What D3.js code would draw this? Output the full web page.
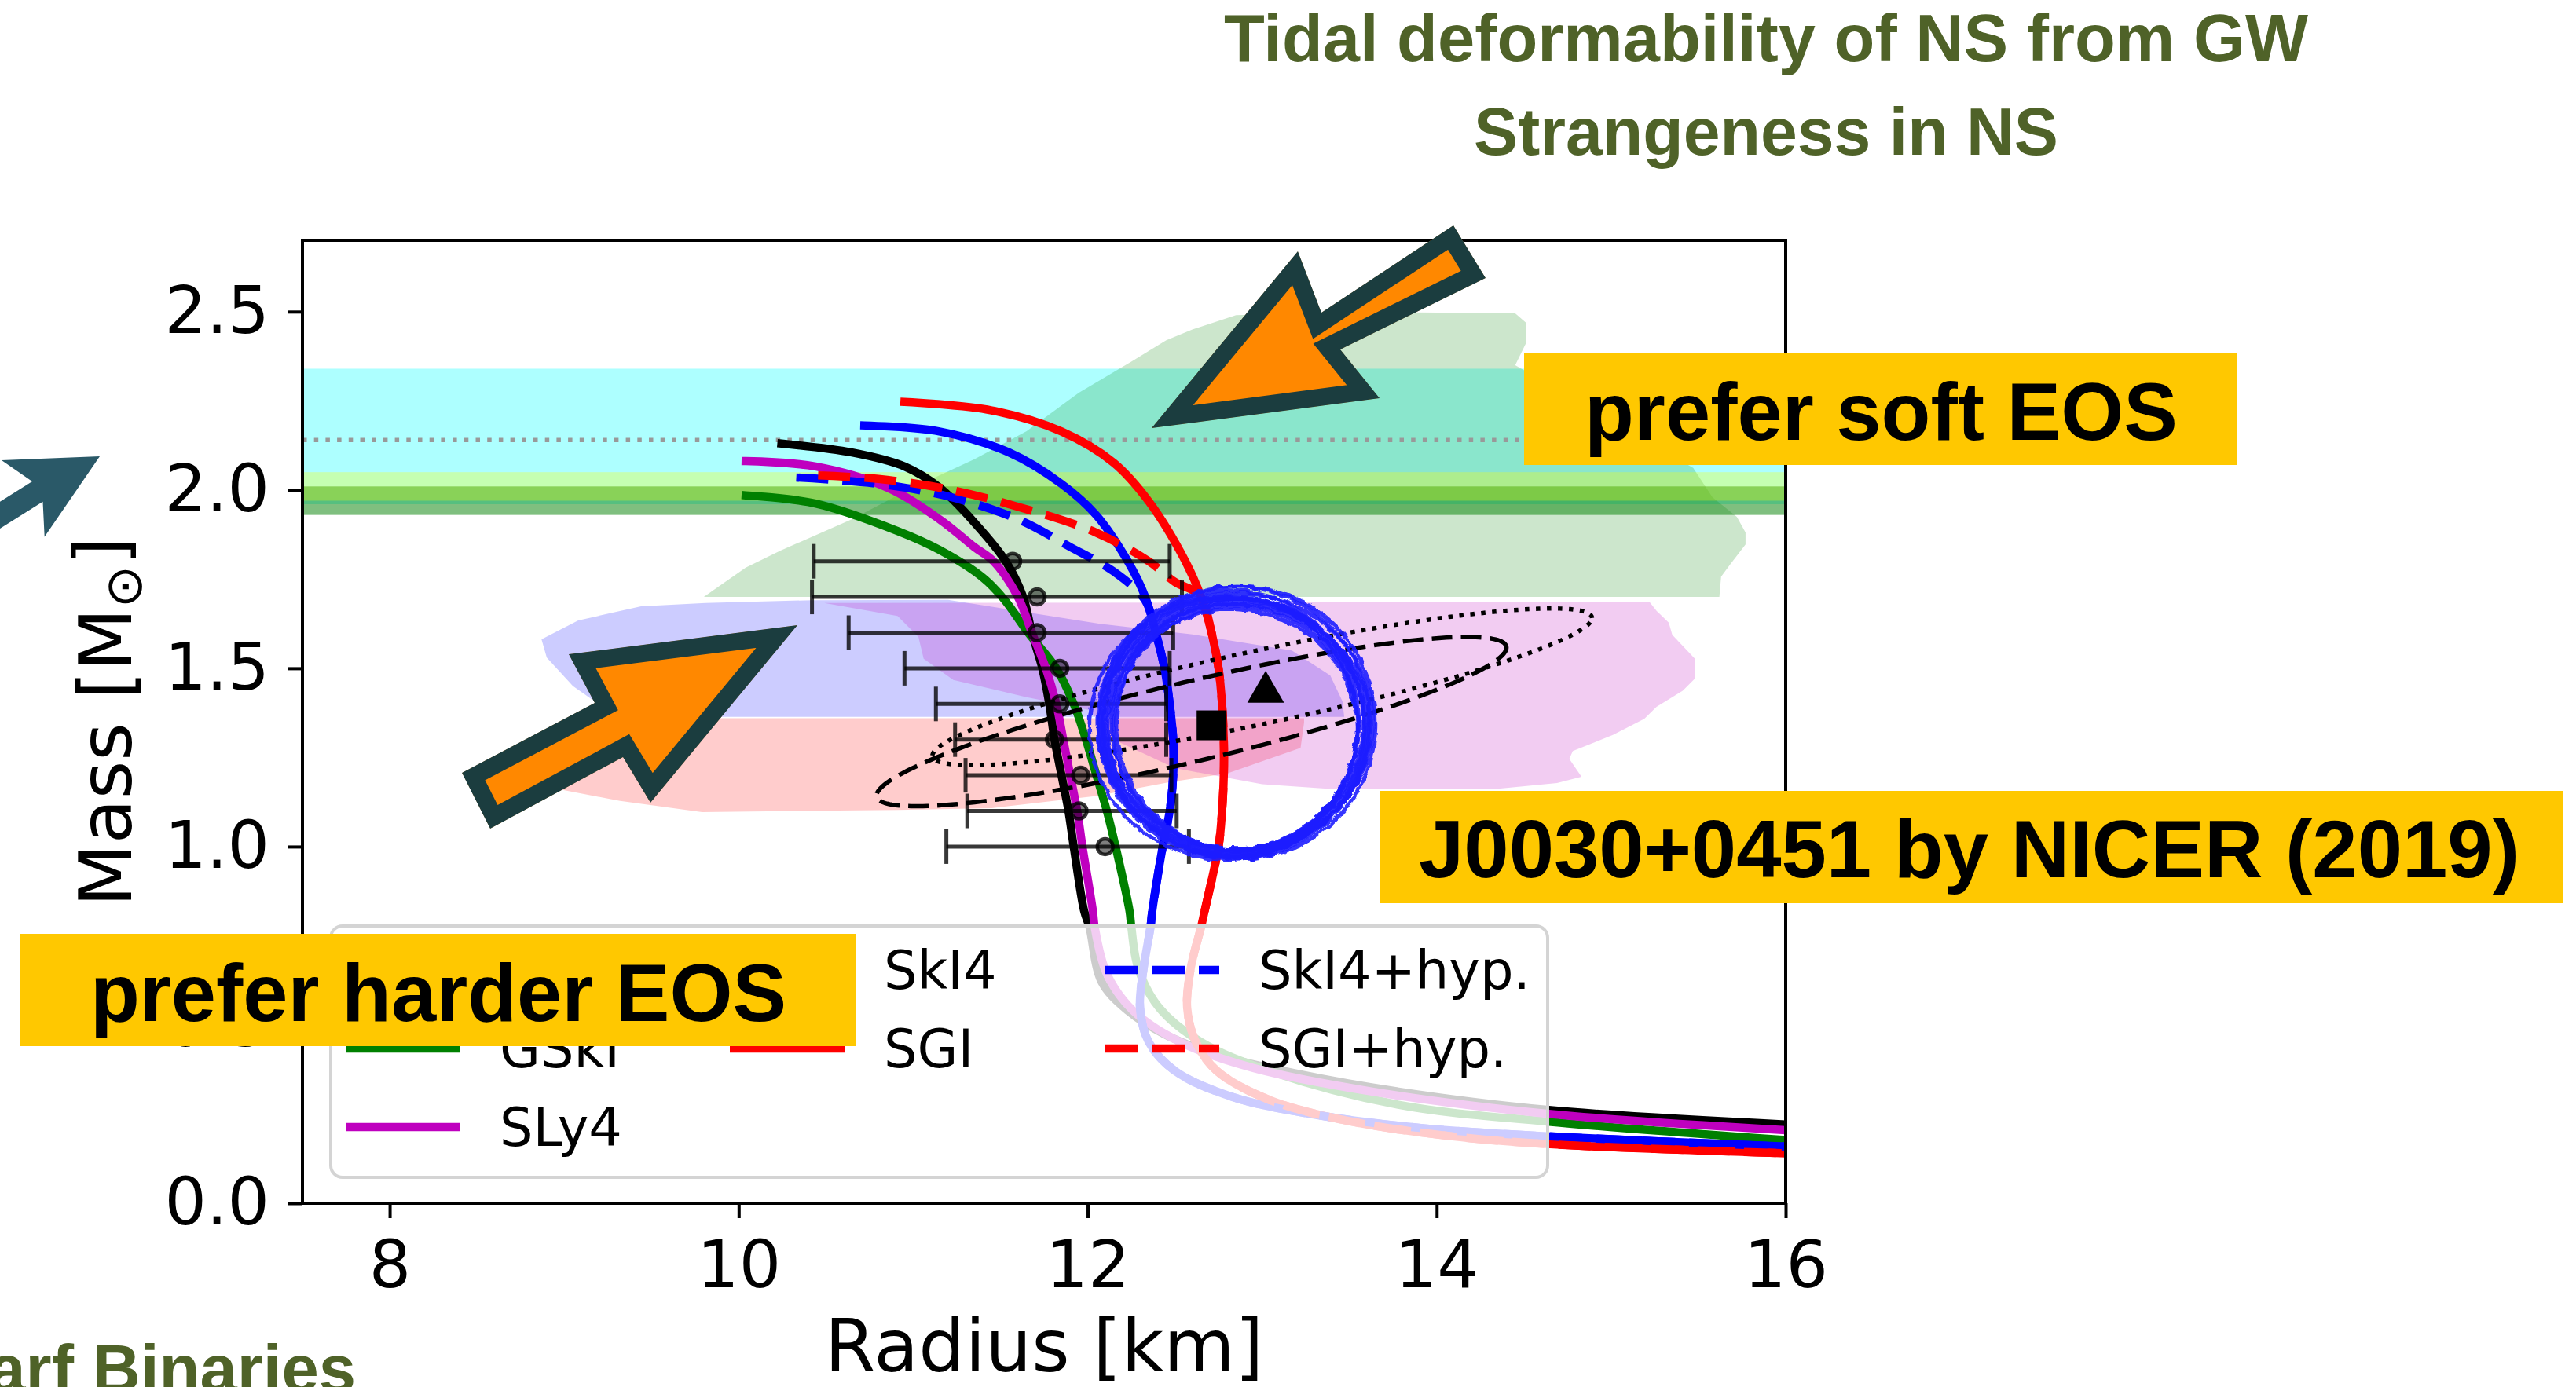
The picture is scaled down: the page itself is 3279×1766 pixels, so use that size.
<!DOCTYPE html>
<html>
<head>
<meta charset="utf-8">
<script src="https://cdn.jsdelivr.net/npm/d3@7"></script>
<style>
  html, body { margin: 0; padding: 0; background: #ffffff; }
  svg { display: block; }
</style>
</head>
<body>
<svg id="chart" width="3279" height="1766"></svg>
<script>
// ---------------- data ----------------
const xTicks = [8, 10, 12, 14, 16];
const yTicks = [0.0, 0.5, 1.0, 1.5, 2.0, 2.5];

// Mass-radius relations [R (km), M (Msun)], from maximum mass down to the crust
const curveSkI3 = [[10.245,2.130],[10.65,2.105],[10.95,2.066],[11.15,2.007],[11.35,1.909],[11.53,1.800],[11.63,1.700],[11.68,1.600],[11.74,1.500],[11.78,1.400],[11.81,1.300],[11.85,1.200],[11.89,1.100],[11.92,1.000],[11.98,0.819],[12.01,0.775],[12.08,0.621],[12.23,0.540],[12.44,0.474],[12.74,0.416],[13.19,0.364],[13.78,0.313],[14.63,0.262],[16.0,0.221]];
const curveGSkI = [[10.04,1.985],[10.44,1.962],[10.91,1.885],[11.15,1.832],[11.40,1.754],[11.52,1.694],[11.66,1.599],[11.82,1.500],[11.92,1.400],[11.99,1.300],[12.05,1.200],[12.11,1.100],[12.16,1.000],[12.24,0.819],[12.25,0.775],[12.29,0.658],[12.41,0.548],[12.65,0.452],[13.04,0.371],[13.78,0.276],[14.63,0.229],[16.0,0.177]];
const curveSLy4 = [[10.04,2.081],[10.44,2.066],[10.85,2.007],[11.15,1.918],[11.35,1.840],[11.46,1.800],[11.60,1.700],[11.68,1.600],[11.76,1.500],[11.82,1.400],[11.86,1.300],[11.90,1.200],[11.94,1.100],[11.97,1.000],[12.03,0.819],[12.04,0.775],[12.11,0.643],[12.26,0.540],[12.53,0.452],[12.95,0.379],[13.63,0.313],[14.63,0.251],[16.0,0.205]];
const curveSkI4 = [[10.72,2.181],[11.15,2.164],[11.55,2.105],[11.85,2.017],[12.05,1.929],[12.23,1.800],[12.33,1.700],[12.39,1.600],[12.44,1.500],[12.47,1.400],[12.49,1.300],[12.49,1.200],[12.47,1.100],[12.43,1.000],[12.37,0.819],[12.36,0.775],[12.32,0.658],[12.30,0.548],[12.35,0.452],[12.50,0.371],[12.83,0.298],[13.33,0.246],[13.93,0.210],[14.63,0.188],[16.0,0.159]];
const curveSGI = [[10.95,2.247],[11.45,2.223],[11.85,2.164],[12.15,2.076],[12.35,1.968],[12.56,1.800],[12.65,1.700],[12.71,1.600],[12.75,1.500],[12.77,1.400],[12.78,1.300],[12.78,1.200],[12.77,1.100],[12.75,1.000],[12.67,0.819],[12.65,0.775],[12.59,0.658],[12.57,0.548],[12.62,0.452],[12.74,0.371],[13.04,0.290],[13.48,0.232],[14.08,0.188],[14.63,0.166],[16.0,0.140]];
const curveSkI4hyp = [[10.33,2.035],[10.80,2.017],[11.20,1.982],[11.60,1.918],[11.90,1.840],[12.15,1.771],[12.33,1.690],[12.39,1.600],[12.44,1.500],[12.47,1.400],[12.49,1.300],[12.49,1.200],[12.47,1.100],[12.43,1.000],[12.37,0.819],[12.36,0.775],[12.32,0.658],[12.30,0.548],[12.35,0.452],[12.50,0.371],[12.83,0.298],[13.33,0.246],[13.93,0.210],[14.63,0.188],[16.0,0.159]];
const curveSGIhyp = [[10.455,2.041],[10.80,2.031],[11.20,2.002],[11.60,1.953],[12.05,1.880],[12.35,1.800],[12.50,1.742],[12.64,1.705],[12.71,1.600],[12.75,1.500],[12.77,1.400],[12.78,1.300],[12.78,1.200],[12.77,1.100],[12.75,1.000],[12.67,0.819],[12.65,0.775],[12.59,0.658],[12.57,0.548],[12.62,0.452],[12.74,0.371],[13.04,0.290],[13.48,0.232],[14.08,0.188],[14.63,0.166],[16.0,0.140]];

const eosLabels = ["SkI3", "GSkI", "SLy4", "SkI4", "SGI", "SkI4+hyp.", "SGI+hyp."];
const eosCurves = [curveSkI3, curveGSkI, curveSLy4, curveSkI4, curveSGI, curveSkI4hyp, curveSGIhyp];
const eosColors = ["#000000", "#008000", "#bf00bf", "#0000ff", "#ff0000", "#0000ff", "#ff0000"];
const eosDashed = [false, false, false, false, false, true, true];

// Horizontal mass bands [Mlow, Mhigh]
const bandJ0740 = [1.96, 2.34];
const bandJ1614 = [1.93, 2.01];
const bandJ0348 = [1.97, 2.05];
const lineJ0740 = 2.14;

// Shaded constraint regions [R, M]
const regionGW = [[12.60,2.450],[12.85,2.490],[13.50,2.500],[14.45,2.495],[14.51,2.470],[14.51,2.410],[14.45,2.350],[15.47,2.062],[15.58,1.980],[15.72,1.925],[15.77,1.881],[15.77,1.847],[15.68,1.790],[15.63,1.757],[15.62,1.700],[9.80,1.700],[10.04,1.782],[10.24,1.830],[10.65,1.918],[10.97,2.000],[11.35,2.086],[11.65,2.165],[11.95,2.273],[12.25,2.360],[12.45,2.420]];
const regionBurstHigh = [[8.87,1.581],[9.08,1.634],[9.44,1.674],[9.81,1.683],[10.42,1.691],[11.20,1.692],[12.07,1.625],[12.60,1.595],[13.17,1.550],[13.39,1.480],[13.46,1.407],[13.47,1.364],[9.30,1.364],[9.05,1.450],[8.90,1.530]];
const regionBurstLow = [[9.20,1.360],[13.24,1.360],[13.24,1.348],[13.22,1.277],[12.80,1.205],[12.46,1.180],[12.05,1.142],[11.45,1.108],[10.91,1.103],[9.79,1.097],[9.32,1.128],[8.95,1.163],[8.91,1.180],[9.00,1.260]];
const regionQLMXB = [[10.49,1.683],[15.22,1.686],[15.26,1.661],[15.33,1.628],[15.35,1.594],[15.48,1.527],[15.48,1.471],[15.41,1.437],[15.26,1.392],[15.19,1.358],[15.01,1.313],[14.78,1.268],[14.76,1.246],[14.83,1.196],[14.69,1.178],[14.33,1.161],[13.78,1.163],[13.44,1.160],[13.00,1.175],[12.50,1.220],[12.15,1.300],[12.01,1.383],[11.64,1.420],[11.23,1.467],[11.06,1.527],[11.03,1.588],[10.91,1.647]];

// Radius ranges at fixed masses
const ebMass = [1.8, 1.7, 1.6, 1.5, 1.4, 1.3, 1.2, 1.1, 1.0];
const ebR    = [11.57, 11.71, 11.71, 11.84, 11.84, 11.81, 11.96, 11.95, 12.10];
const ebRlo  = [10.43, 10.42, 10.63, 10.95, 11.13, 11.24, 11.30, 11.31, 11.19];
const ebRhi  = [12.47, 12.54, 12.49, 12.47, 12.45, 12.45, 12.48, 12.51, 12.58];

// PSR J0030+0451 NICER inferences [R, M]
const nicerRiley = [12.71, 1.34];
const nicerMiller = [13.02, 1.44];
// Credible contours: centre, semi-diameter to the tip, vertical conjugate semi-diameter
const contourRiley = { c: [12.595, 1.3505], u: [1.805, 0.2075], v: [0, 0.115] };
const contourMiller = { c: [13.00, 1.448], u: [1.89, 0.193], v: [0, 0.105] };

// Hand-drawn ring around the NICER source: centre offset and semi-axes (km, Msun)
const ringCentre = [12.84, 1.339];
const ringStrokes = [
  { dr: 0.000, dm: 0.000, ar: 0.745, am: 0.356 },
  { dr: 0.020, dm: 0.005, ar: 0.720, am: 0.350 },
  { dr: -0.015, dm: -0.004, ar: 0.765, am: 0.366 },
  { dr: 0.010, dm: -0.008, ar: 0.700, am: 0.342 },
  { dr: -0.020, dm: 0.006, ar: 0.735, am: 0.373 },
  { dr: 0.005, dm: 0.010, ar: 0.790, am: 0.362 },
  { dr: -0.010, dm: -0.010, ar: 0.712, am: 0.336 },
  { dr: 0.025, dm: -0.002, ar: 0.755, am: 0.345 },
  { dr: -0.025, dm: 0.000, ar: 0.728, am: 0.360 },
  { dr: 0.000, dm: 0.012, ar: 0.775, am: 0.378 },
  { dr: -0.030, dm: -0.006, ar: 0.800, am: 0.370 },
  { dr: 0.015, dm: 0.003, ar: 0.690, am: 0.348 },
  { dr: -0.005, dm: -0.012, ar: 0.760, am: 0.352 },
  { dr: 0.030, dm: 0.008, ar: 0.780, am: 0.382 }
];

// ---------------- drawing ----------------
const svg = d3.select("#chart");
const plot = { left: 385, right: 2273, top: 306, bottom: 1532 };
const x = d3.scaleLinear().domain([7.5, 16]).range([plot.left, plot.right]);
const y = d3.scaleLinear().domain([0, 2.7]).range([plot.bottom, plot.top]);

const defs = svg.append("defs");
defs.append("clipPath").attr("id", "plot-clip")
  .append("rect")
  .attr("x", plot.left).attr("y", plot.top)
  .attr("width", plot.right - plot.left).attr("height", plot.bottom - plot.top);

// roughened pen stroke for the ring
const rough = defs.append("filter").attr("id", "pen")
  .attr("x", "-10%").attr("y", "-10%").attr("width", "120%").attr("height", "120%");
rough.append("feTurbulence").attr("type", "fractalNoise")
  .attr("baseFrequency", 0.09).attr("numOctaves", 2).attr("seed", 3).attr("result", "noise");
rough.append("feDisplacementMap").attr("in", "SourceGraphic").attr("in2", "noise")
  .attr("scale", 7).attr("xChannelSelector", "R").attr("yChannelSelector", "G");

const polyLine = d3.line().x(d => x(d[0])).y(d => y(d[1])).curve(d3.curveLinearClosed);
const smoothLine = d3.line().x(d => x(d[0])).y(d => y(d[1])).curve(d3.curveCatmullRom.alpha(0.5));

const data = svg.append("g").attr("clip-path", "url(#plot-clip)");

function band(range, color, opacity) {
  data.append("rect")
    .attr("x", plot.left).attr("width", plot.right - plot.left)
    .attr("y", y(range[1])).attr("height", y(range[0]) - y(range[1]))
    .attr("fill", color).attr("fill-opacity", opacity);
}

// J0740+6620 mass band
band(bandJ0740, "#00ffff", 0.32);

// constraint regions
data.append("path").attr("d", polyLine(regionGW)).attr("fill", "#008000").attr("fill-opacity", 0.2);
data.append("path").attr("d", polyLine(regionBurstHigh)).attr("fill", "#0000ff").attr("fill-opacity", 0.2);
data.append("path").attr("d", polyLine(regionBurstLow)).attr("fill", "#ff0000").attr("fill-opacity", 0.2);
data.append("path").attr("d", polyLine(regionQLMXB)).attr("fill", "#bf00bf").attr("fill-opacity", 0.2);

// J1614-2230 and J0348+0432 mass bands
band(bandJ1614, "#008000", 0.5);
band(bandJ0348, "#ffff00", 0.3);

// central value of J0740+6620
data.append("line")
  .attr("x1", plot.left).attr("x2", plot.right)
  .attr("y1", y(lineJ0740)).attr("y2", y(lineJ0740))
  .attr("stroke", "#999999").attr("stroke-width", 5.5)
  .attr("stroke-dasharray", "5.5,9.2");

// EOS curves
eosCurves.forEach((c, i) => {
  data.append("path")
    .attr("d", smoothLine(c))
    .attr("fill", "none")
    .attr("stroke", eosColors[i])
    .attr("stroke-width", 10.5)
    .attr("stroke-linecap", eosDashed[i] ? "butt" : "square")
    .attr("stroke-dasharray", eosDashed[i] ? "41,18" : null);
});

// radius error bars
const eb = data.append("g").attr("stroke", "#000").attr("stroke-opacity", 0.78);
ebMass.forEach((m, i) => {
  eb.append("line").attr("x1", x(ebRlo[i])).attr("x2", x(ebRhi[i]))
    .attr("y1", y(m)).attr("y2", y(m)).attr("stroke-width", 5);
  [ebRlo[i], ebRhi[i]].forEach(r => {
    eb.append("line").attr("x1", x(r)).attr("x2", x(r))
      .attr("y1", y(m) - 22).attr("y2", y(m) + 22).attr("stroke-width", 5);
  });
  eb.append("circle").attr("cx", x(ebR[i])).attr("cy", y(m)).attr("r", 10)
    .attr("fill", "#000").attr("fill-opacity", 0.5).attr("stroke-width", 4.5);
});

// NICER contours
function contour(p) {
  const n = 240;
  return d3.range(n).map(k => {
    const t = 2 * Math.PI * k / n;
    return [p.c[0] + p.u[0] * Math.cos(t) + p.v[0] * Math.sin(t),
            p.c[1] + p.u[1] * Math.cos(t) + p.v[1] * Math.sin(t)];
  });
}
data.append("path").attr("d", polyLine(contour(contourRiley)))
  .attr("fill", "none").attr("stroke", "#000").attr("stroke-width", 5.5)
  .attr("stroke-dasharray", "26,11");
data.append("path").attr("d", polyLine(contour(contourMiller)))
  .attr("fill", "none").attr("stroke", "#000").attr("stroke-width", 5.5)
  .attr("stroke-dasharray", "5.5,8.5");

// NICER point estimates
data.append("rect")
  .attr("x", x(nicerRiley[0]) - 19).attr("y", y(nicerRiley[1]) - 19)
  .attr("width", 38).attr("height", 38).attr("fill", "#000");
data.append("path")
  .attr("d", d3.symbol().type(d3.symbolTriangle).size(950)())
  .attr("transform", `translate(${x(nicerMiller[0])},${y(nicerMiller[1]) + 3})`)
  .attr("fill", "#000");

// axes
const xAxis = d3.axisBottom(x).tickValues(xTicks).tickFormat(d3.format("d"))
  .tickSize(19).tickPadding(28);
const yAxis = d3.axisLeft(y).tickValues(yTicks).tickFormat(d3.format(".1f"))
  .tickSize(19).tickPadding(23);
function styleAxis(g) {
  g.select(".domain").remove();
  g.selectAll(".tick line").attr("stroke", "#000").attr("stroke-width", 4);
  g.selectAll(".tick text").attr("fill", "#000")
    .style("font-family", "'DejaVu Sans', sans-serif").style("font-size", "84px");
}
svg.append("g").attr("transform", `translate(0,${plot.bottom})`).call(xAxis).call(styleAxis);
svg.append("g").attr("transform", `translate(${plot.left},0)`).call(yAxis).call(styleAxis);

svg.append("rect")
  .attr("x", plot.left).attr("y", plot.top)
  .attr("width", plot.right - plot.left).attr("height", plot.bottom - plot.top)
  .attr("fill", "none").attr("stroke", "#000").attr("stroke-width", 4);

svg.append("text")
  .attr("x", (plot.left + plot.right) / 2).attr("y", 1746)
  .attr("text-anchor", "middle")
  .style("font-family", "'DejaVu Sans', sans-serif").style("font-size", "93px")
  .text("Radius [km]");

const yLab = svg.append("text")
  .attr("transform", `translate(167,${(plot.top + plot.bottom) / 2}) rotate(-90)`)
  .attr("text-anchor", "middle")
  .style("font-family", "'DejaVu Sans', sans-serif").style("font-size", "93px");
yLab.append("tspan").text("Mass [M");
yLab.append("tspan").attr("dy", "0.2em").style("font-size", "65px").text("\u2299");
yLab.append("tspan").attr("dy", "-0.2em").text("]");

// legend
const legend = svg.append("g");
legend.append("rect")
  .attr("x", 421).attr("y", 1179).attr("width", 1549).attr("height", 320).attr("rx", 15)
  .attr("fill", "#fff").attr("fill-opacity", 0.8)
  .attr("stroke", "#d4d4d4").attr("stroke-width", 4);
const legCols = [440, 929, 1406];
const legRows = [1235, 1335, 1435];
const legSlots = [[0,0],[0,1],[0,2],[1,0],[1,1],[2,0],[2,1]];
eosLabels.forEach((lab, i) => {
  const [c, r] = legSlots[i];
  const lx = legCols[c], ly = legRows[r];
  legend.append("line")
    .attr("x1", lx).attr("x2", lx + 146).attr("y1", ly).attr("y2", ly)
    .attr("stroke", eosColors[i]).attr("stroke-width", 10.5)
    .attr("stroke-dasharray", eosDashed[i] ? "42,18" : null);
  legend.append("text")
    .attr("x", lx + 196).attr("y", ly + 24)
    .style("font-family", "'DejaVu Sans', sans-serif").style("font-size", "67px")
    .text(lab);
});

// hand-drawn ring around J0030+0451
const ring = svg.append("g").attr("fill", "none").attr("stroke", "#1f1fff")
  .attr("filter", "url(#pen)");
ringStrokes.forEach(s => {
  ring.append("path")
    .attr("d", polyLine(contour({
      c: [ringCentre[0] + s.dr, ringCentre[1] + s.dm],
      u: [s.ar, 0], v: [0, s.am]
    })))
    .attr("stroke-width", 4.5).attr("stroke-opacity", 0.9);
});

// ---------------- annotations ----------------
const boldFont = "'Liberation Sans', Arial, Helvetica, sans-serif";
function arrow(id, pts, fill, edge) {
  const d = "M" + pts.map(p => p.join(",")).join("L") + "Z";
  defs.append("clipPath").attr("id", id).append("path").attr("d", d);
  svg.append("path").attr("d", d)
    .attr("fill", fill).attr("stroke", edge).attr("stroke-width", 44)
    .attr("stroke-linejoin", "miter").attr("stroke-miterlimit", 10)
    .attr("clip-path", `url(#${id})`);
}
arrow("arrow-soft", [[1466,545],[1756,507],[1706,445],[1891,354],[1850,287],[1682,398],[1652,320]], "#ff8800", "#1b3d3f");
arrow("arrow-hard", [[1015,796],[828,1022],[793,964],[624,1055],[588,984],[757,895],[724,833]], "#ff8800", "#1b3d3f");

svg.append("path")
  .attr("d", "M127,581L2,586L41,613L0,638.7L0,673L54.5,638.7L56.7,683.4Z")
  .attr("fill", "#2a5968");

function tag(bx, by, bw, bh, tx, ty, tw, label) {
  svg.append("rect").attr("x", bx).attr("y", by).attr("width", bw).attr("height", bh)
    .attr("fill", "#ffc800");
  svg.append("text").attr("x", tx).attr("y", ty)
    .attr("textLength", tw).attr("lengthAdjust", "spacingAndGlyphs")
    .style("font-family", boldFont).style("font-weight", "bold").style("font-size", "104px")
    .attr("fill", "#000").text(label);
}
tag(1940, 449, 908, 143, 2017, 560, 755, "prefer soft EOS");
tag(26, 1189, 1064, 143, 115, 1300, 886, "prefer harder EOS");
tag(1756, 1007, 1506, 143, 1806, 1117, 1401, "J0030+0451 by NICER (2019)");

function olive(txt, xx, yy, anchor, len) {
  const t = svg.append("text").attr("x", xx).attr("y", yy).attr("text-anchor", anchor)
    .style("font-family", boldFont).style("font-weight", "bold").style("font-size", "85px")
    .attr("fill", "#4f6228").text(txt);
  if (len) t.attr("textLength", len).attr("lengthAdjust", "spacingAndGlyphs");
}
olive("Tidal deformability of NS from GW", 2248, 78, "middle", 1380);
olive("Strangeness in NS", 2248, 197, "middle", 744);
olive("White Dwarf Binaries", 453, 1772, "end", null);
</script>
</body>
</html>
